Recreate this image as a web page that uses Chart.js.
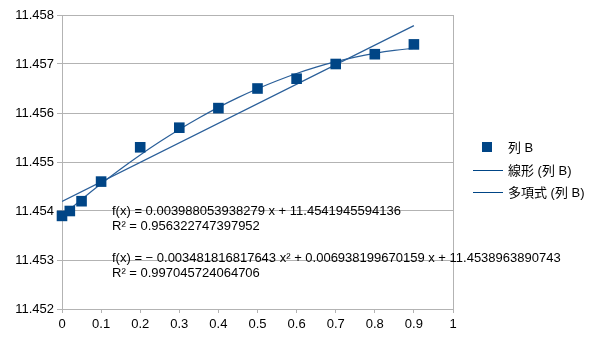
<!DOCTYPE html>
<html>
<head>
<meta charset="utf-8">
<script src="https://cdn.jsdelivr.net/npm/chart.js@4"></script>
<style>
  body { margin: 0; background: #fff; }
  #wrap { position: relative; width: 605px; height: 340px; font-family: "Liberation Sans", "Noto Sans CJK JP", sans-serif; font-size: 13px; color: #000; }
  .txt { position: absolute; white-space: nowrap; line-height: 15px; }
  .sq { position: absolute; width: 10px; height: 10px; background: #004586; }
  .ln { position: absolute; width: 30px; height: 1px; background: #004586; }
</style>
</head>
<body>
<div id="wrap">
  <canvas id="myChart" width="605" height="340"></canvas>
  <div class="sq" style="left:482px; top:142px;"></div>
  <div class="txt" style="left:508px; top:140px;">列 B</div>
  <div class="ln" style="left:473px; top:170px;"></div>
  <div class="txt" style="left:508px; top:163px;">線形 (列 B)</div>
  <div class="ln" style="left:473px; top:192px;"></div>
  <div class="txt" style="left:508px; top:185px;">多項式 (列 B)</div>
  <div class="txt" style="left:112px; top:203px;">f(x) = 0.003988053938279 x + 11.4541945594136<br>R² = 0.956322747397952</div>
  <div class="txt" style="left:112px; top:250px;">f(x) = − 0.003481816817643 x² + 0.006938199670159 x + 11.4538963890743<br>R² = 0.997045724064706</div>
</div>
<script>
var xValues = [0, 0.02, 0.05, 0.1, 0.2, 0.3, 0.4, 0.5, 0.6, 0.7, 0.8, 0.9];
var yValues = [11.4539, 11.454, 11.4542, 11.4546, 11.4553, 11.4557, 11.4561, 11.4565, 11.4567, 11.457, 11.4572, 11.4574];

// trend line coefficients as shown on the chart
var linearFit = [11.4541945594136, 0.003988053938279];
var polyFit = [11.4538963890743, 0.006938199670159, -0.003481816817643];
var trendX = [0, 0.05, 0.1, 0.15, 0.2, 0.25, 0.3, 0.35, 0.4, 0.45, 0.5, 0.55, 0.6, 0.65, 0.7, 0.75, 0.8, 0.85, 0.9];

document.addEventListener('DOMContentLoaded', function() {
    var ctx = document.getElementById('myChart').getContext('2d');

    var points = xValues.map(function(x, i) { return { x: x, y: yValues[i] }; });
    var linPoints = [0, 0.9].map(function(x) { return { x: x, y: linearFit[0] + linearFit[1] * x }; });
    var polyPoints = trendX.map(function(x) {
        return { x: x, y: polyFit[0] + polyFit[1] * x + polyFit[2] * x * x };
    });

    var grey = '#b3b3b3';

    new Chart(ctx, {
        type: 'scatter',
        data: {
            datasets: [{
                label: '列 B',
                data: points,
                pointStyle: 'rect',
                pointRadius: 7.5,
                pointHoverRadius: 7.5,
                backgroundColor: '#004586',
                borderColor: '#004586',
                borderWidth: 0,
                clip: false,
                order: 0
            }, {
                label: '線形 (列 B)',
                data: linPoints,
                showLine: true,
                pointRadius: 0,
                borderColor: '#2a5f99',
                borderWidth: 1.2,
                order: 1
            }, {
                label: '多項式 (列 B)',
                data: polyPoints,
                showLine: true,
                tension: 0.4,
                pointRadius: 0,
                borderColor: '#2a5f99',
                borderWidth: 1.2,
                order: 1
            }]
        },
        options: {
            responsive: false,
            animation: false,
            layout: { padding: { top: 15, right: 152, left: 0, bottom: 0 } },
            plugins: { legend: { display: false }, tooltip: { enabled: false } },
            scales: {
                x: {
                    min: 0,
                    max: 1,
                    ticks: { stepSize: 0.1, color: '#000', padding: 4, font: { family: 'Liberation Sans', size: 13 },
                        callback: function(v) { return String(Math.round(v * 10) / 10); } },
                    grid: {
                        color: function(c) { return c.tick && c.tick.value === 1 ? grey : 'rgba(0,0,0,0)'; },
                        tickColor: grey,
                        tickLength: 4
                    },
                    border: { color: grey },
                    afterFit: function(s) { s.height = 31; }
                },
                y: {
                    min: 11.452,
                    max: 11.458,
                    ticks: { stepSize: 0.001, color: '#000', padding: 3, font: { family: 'Liberation Sans', size: 13 },
                        callback: function(v) { return v.toFixed(3); } },
                    grid: { color: grey, tickColor: grey, tickLength: 5 },
                    border: { color: grey },
                    afterFit: function(s) { s.width = 62; }
                }
            }
        }
    });
});
</script>
</body>
</html>
